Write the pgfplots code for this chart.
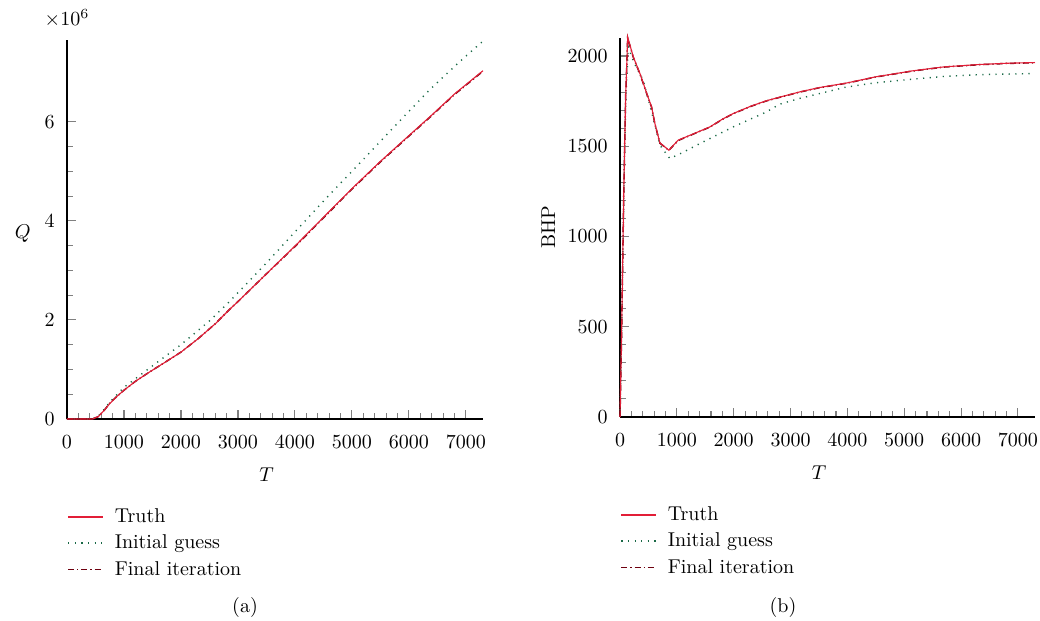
\documentclass[border=0pt]{standalone}
\usepackage{pgfplots}
\pgfplotsset{compat=1.18}
\definecolor{truthred}{RGB}{226,30,55}
\definecolor{initgreen}{RGB}{25,105,70}
\definecolor{finalred}{RGB}{110,0,15}

\pgfplotsset{
  myaxis/.style={
    scale only axis, width=208pt, height=189.5pt,
    axis lines=left,
    axis line style={-, line width=0.6pt},
    every outer x axis line/.append style={-},
    every outer y axis line/.append style={-},
    tick align=inside,
    tick style={line width=0.55pt},
    xmin=0, xmax=7300,
    xtick={0,1000,...,7000}, minor x tick num=4,
    scaled x ticks=false,
    /pgf/number format/set thousands separator={},
    xticklabel style={yshift=-5pt},
    yticklabel style={xshift=-2.7pt},
    xlabel={$T$},
    xlabel style={at={(axis description cs:0.48,0)}, anchor=center, yshift=-28pt},
    clip=false,
    legend style={draw=none, fill=none, inner sep=0pt, row sep=0.8pt,
      at={(axis description cs:0.0,-0.224)}, anchor=north west,
      /tikz/every odd column/.append style={column sep=3.3pt},
      cells={anchor=west}},
    legend cell align=left,
    legend image code/.code={\draw[##1] (0pt,0pt) -- (17.5pt,0pt);},
  },
}

\begin{document}
\begin{tikzpicture}
\useasboundingbox (0,0) rectangle (520pt,310.5pt);

% ---------------- (a) ----------------
\begin{axis}[myaxis, at={(33.5pt,101pt)}, anchor=south west,
  ymin=0, ymax=7.65, ytick={0,2,4,6}, minor y tick num=3,
  ylabel={$Q$},
  ylabel style={at={(axis description cs:-0.106,0.49)}, rotate=-90, anchor=center},
]
\addlegendimage{color=truthred, draw=truthred, solid, line width=0.9pt}
\addlegendentry{Truth}
\addlegendimage{color=initgreen, draw=initgreen, line width=0.75pt, dash pattern=on 0.6pt off 2.7pt}
\addlegendentry{Initial guess}
\addlegendimage{color=finalred, draw=finalred, line width=0.8pt, dash pattern=on 3pt off 1.5pt on 0.6pt off 1.5pt}
\addlegendentry{Final iteration}
% initial guess
\addplot[forget plot, draw=initgreen, line width=0.7pt, dash pattern=on 0.6pt off 2.7pt] coordinates {
(0,0) (450,0) (550,0.06) (650,0.19) (750,0.34) (1000,0.64) (1450,1.03) (2000,1.5)
(2500,1.98) (2860,2.38) (3500,3.15) (4035,3.82) (4600,4.52) (5193,5.23) (5800,5.97)
(6368,6.65) (6850,7.17) (7300,7.63)};
% final iteration
\addplot[forget plot, draw=finalred, line width=0.75pt, dash pattern=on 3pt off 1.5pt on 0.6pt off 1.5pt] coordinates {
(0,0) (450,0) (550,0.05) (650,0.17) (750,0.32) (870,0.45) (1000,0.58) (1200,0.76)
(1450,0.95) (1700,1.13) (2000,1.35) (2300,1.62) (2600,1.92) (2860,2.22) (3000,2.37)
(3500,2.93) (4035,3.52) (4500,4.06) (5000,4.64) (5500,5.19) (6000,5.71) (6368,6.09)
(6800,6.55) (7300,7.02)};
% truth
\addplot[forget plot, draw=truthred, line width=0.55pt] coordinates {
(0,0) (450,0) (550,0.05) (650,0.17) (750,0.31) (870,0.45) (1000,0.58) (1200,0.76)
(1450,0.95) (1700,1.13) (2000,1.35) (2300,1.62) (2600,1.92) (2860,2.22) (3000,2.37)
(3500,2.93) (4035,3.53) (4500,4.07) (5000,4.65) (5500,5.2) (6000,5.72) (6368,6.1)
(6800,6.56) (7300,7.03)};
\node at (axis description cs:0,1) [anchor=center, yshift=11pt] {$\times10^{6}$};
\end{axis}

% ---------------- (b) ----------------
\begin{axis}[myaxis, at={(310pt,102pt)}, anchor=south west,
  width=207.5pt,
  ymin=0, ymax=2100, ytick={0,500,...,2000}, minor y tick num=4,
  ylabel={BHP},
  ylabel style={at={(axis description cs:-0.173,0.5)}, anchor=center},
]
\addlegendimage{color=truthred, draw=truthred, solid, line width=0.9pt}
\addlegendentry{Truth}
\addlegendimage{color=initgreen, draw=initgreen, line width=0.75pt, dash pattern=on 0.6pt off 2.7pt}
\addlegendentry{Initial guess}
\addlegendimage{color=finalred, draw=finalred, line width=0.8pt, dash pattern=on 3pt off 1.5pt on 0.6pt off 1.5pt}
\addlegendentry{Final iteration}
% initial guess
\addplot[forget plot, draw=initgreen, line width=0.7pt, dash pattern=on 0.6pt off 2.7pt] coordinates {
(0,0) (29,470) (70,1280) (99,1730) (145,2050) (250,1960) (409,1866) (556,1690)
(702,1506) (877,1432) (1100,1465) (1404,1515) (1988,1607) (2573,1690) (2807,1733)
(3158,1765) (3977,1828) (4500,1852) (5146,1872) (5700,1887) (6316,1897) (7300,1903)};
% final iteration
\addplot[forget plot, draw=finalred, line width=0.75pt, dash pattern=on 3pt off 1.5pt on 0.6pt off 1.5pt] coordinates {
(0,0) (29,480) (47,850) (70,1310) (99,1770) (135,2100) (234,1993) (351,1901)
(468,1793) (556,1716) (614,1624) (702,1517) (860,1478) (1023,1532) (1300,1569)
(1579,1606) (1800,1649) (1988,1680) (2300,1721) (2573,1751) (2807,1771) (3158,1800)
(3500,1824) (3977,1849) (4500,1884) (5146,1917) (5700,1939) (6316,1952) (6800,1959) (7300,1963)};
% truth
\addplot[forget plot, draw=truthred, line width=0.55pt] coordinates {
(0,0) (29,480) (47,850) (70,1310) (99,1770) (135,2105) (234,1995) (351,1903)
(468,1795) (556,1718) (614,1626) (702,1519) (860,1478) (1023,1534) (1300,1570)
(1579,1607) (1800,1650) (1988,1681) (2300,1722) (2573,1752) (2807,1772) (3158,1801)
(3500,1825) (3977,1850) (4500,1885) (5146,1918) (5700,1940) (6316,1953) (6800,1960) (7300,1964)};
\end{axis}

\node at (122.5pt,6.5pt) {(a)};
\node at (391.5pt,6.5pt) {(b)};
\end{tikzpicture}
\end{document}
